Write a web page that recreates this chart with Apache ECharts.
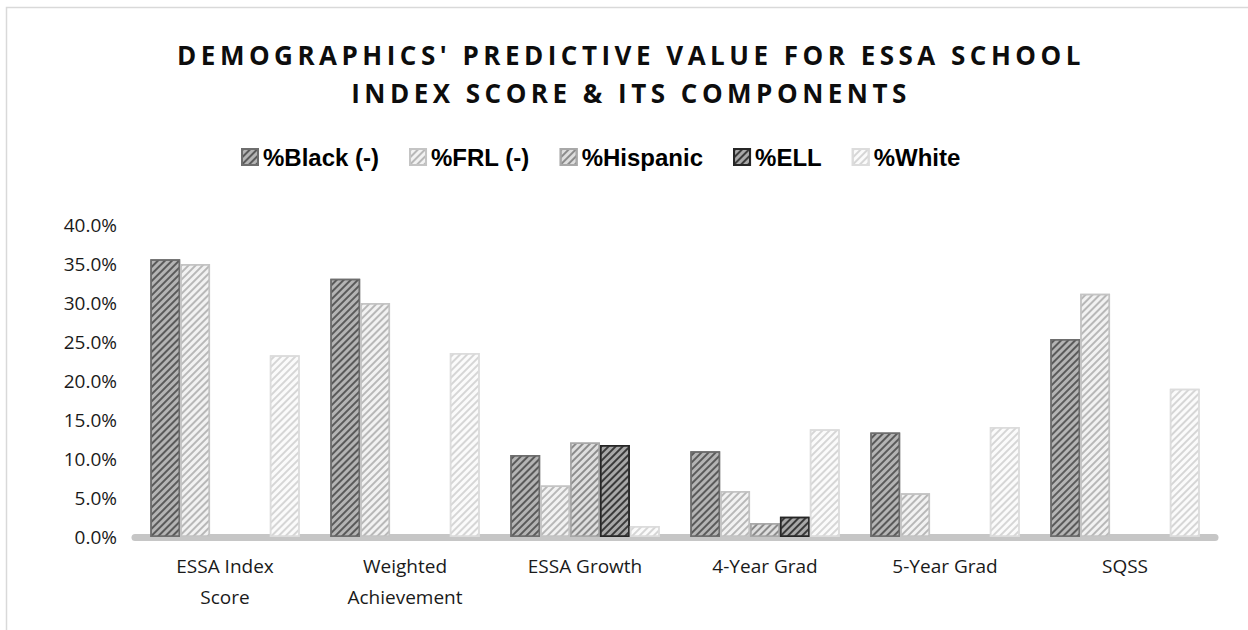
<!DOCTYPE html>
<html lang="en">
<head>
    <meta charset="UTF-8">
    <title>ESSA demographics chart</title>
    <script src="https://cdn.jsdelivr.net/npm/echarts@6.0.0/dist/echarts.min.js"></script>
    <style>
        body { margin: 0; padding: 0; background: #fff; }
        #chartContainer { width: 1248px; height: 630px; }
    </style>
</head>
<body>
    <div id="chartContainer"></div>
    <script>
        // categories and values (percent)
        var categories = ['ESSA Index\nScore', 'Weighted\nAchievement', 'ESSA Growth', '4-Year Grad', '5-Year Grad', 'SQSS'];
        var blackVals = [35.6, 33.1, 10.5, 11.0, 13.4, 25.4];
        var frlVals = [35.0, 30.0, 6.6, 5.9, 5.6, 31.2];
        var hispanicVals = [null, null, 12.1, 1.8, null, null];
        var ellVals = [null, null, 11.8, 2.6, null, null];
        var whiteVals = [23.3, 23.6, 1.4, 13.8, 14.1, 19.0];
        var seriesNames = ['%Black (-)', '%FRL (-)', '%Hispanic', '%ELL', '%White'];
        var titleLines = ["DEMOGRAPHICS' PREDICTIVE VALUE FOR ESSA SCHOOL", 'INDEX SCORE & ITS COMPONENTS'];

        var myChart = echarts.init(document.getElementById('chartContainer'), null, { renderer: 'svg' });

        // hatch fill for each series: base colour, stripe colour, border
        var styles = [
            ['#b4b4b4', '#5a5a5a', '#6e6e6e'],
            ['#f2f2f2', '#b8b8b8', '#c4c4c4'],
            ['#dedede', '#8c8c8c', '#a8a8a8'],
            ['#a8a8a8', '#3a3a3a', '#262626'],
            ['#fbfbfb', '#d6d6d6', '#dcdcdc']
        ];
        var allVals = [blackVals, frlVals, hispanicVals, ellVals, whiteVals];

        function makeSeries(i) {
            var s = styles[i];
            return {
                name: seriesNames[i],
                type: 'bar',
                barGap: '0%',
                barCategoryGap: '17%',
                data: allVals[i],
                itemStyle: {
                    color: s[0],
                    borderColor: s[2],
                    borderWidth: 1.5,
                    decal: {
                        symbol: 'rect',
                        symbolSize: 1,
                        dashArrayX: [1, 0],
                        dashArrayY: [1.5, 2.5],
                        rotation: -Math.PI / 4,
                        color: s[1]
                    }
                }
            };
        }

        // the title in the original is tracked out; svg text takes letter-spacing
        function spreadTitle() {
            var texts = document.querySelectorAll('#chartContainer svg text');
            texts.forEach(function (t) {
                if (titleLines.indexOf(t.textContent) >= 0) {
                    t.style.letterSpacing = '4.5px';
                }
            });
        }

        myChart.on('finished', spreadTitle);

        myChart.setOption({
            animation: false,
            title: {
                text: titleLines.join('\n'),
                left: 626,
                textAlign: 'center',
                top: 31,
                textStyle: {
                    fontFamily: 'Open Sans',
                    fontWeight: 'bold',
                    fontSize: 26,
                    lineHeight: 38,
                    color: '#0d0d0d'
                }
            },
            legend: {
                top: 140,
                left: 236,
                itemWidth: 16,
                itemHeight: 16,
                itemGap: 30,
                icon: 'rect',
                textStyle: {
                    fontFamily: 'Liberation Sans',
                    fontWeight: 'bold',
                    fontSize: 24,
                    color: '#000'
                },
                data: seriesNames
            },
            graphic: [{
                type: 'rect',
                shape: { x: 6.5, y: 7.5, width: 1260, height: 640 },
                style: { fill: 'none', stroke: '#d9d9d9', lineWidth: 1.5 },
                silent: true
            }],
            grid: {
                left: 135,
                right: 33,
                top: 225,
                bottom: 93,
                containLabel: false
            },
            xAxis: {
                type: 'category',
                data: categories,
                axisLine: { show: true, lineStyle: { color: '#c6c6c6', width: 7 } },
                axisTick: { show: false },
                axisLabel: {
                    fontFamily: 'Open Sans',
                    fontSize: 19,
                    color: '#1a1a1a',
                    lineHeight: 31,
                    margin: 13
                }
            },
            yAxis: {
                type: 'value',
                min: 0,
                max: 40,
                interval: 5,
                splitLine: { show: false },
                axisLine: { show: false },
                axisTick: { show: false },
                axisLabel: {
                    fontFamily: 'Open Sans',
                    fontSize: 19,
                    color: '#1a1a1a',
                    margin: 18,
                    formatter: function (v) { return v.toFixed(1) + '%'; }
                }
            },
            series: [0, 1, 2, 3, 4].map(makeSeries)
        });

        spreadTitle();
        setTimeout(spreadTitle, 0);
    </script>
</body>
</html>
